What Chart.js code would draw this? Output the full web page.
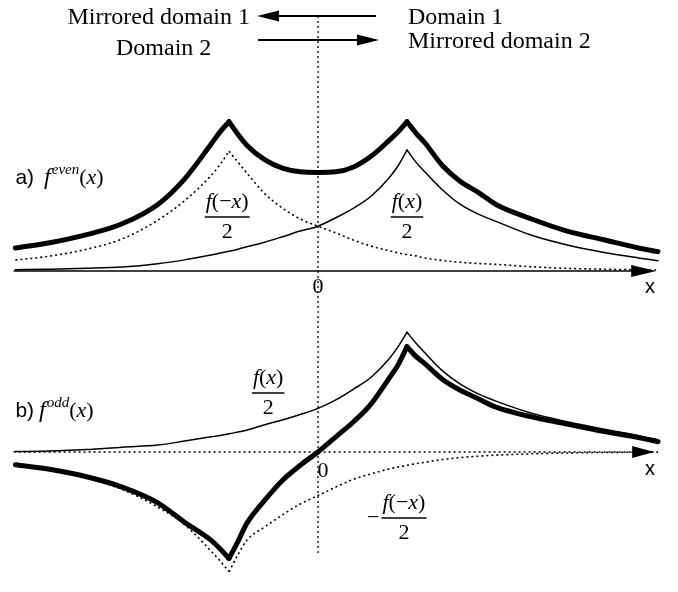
<!DOCTYPE html>
<html>
<head>
<meta charset="utf-8">
<script src="https://cdn.jsdelivr.net/npm/chart.js@4.4.1/dist/chart.umd.min.js"></script>
<style>
  html, body { margin: 0; padding: 0; background: #fff; }
  canvas { display: block; }
</style>
</head>
<body>
<canvas id="c" width="678" height="592"></canvas>
<script>
// Sample positions along x (one unit = distance from the origin to the cusp of f).
const xs = [-3.4, -3.0, -2.6, -2.2, -1.8, -1.5, -1.2, -1.1, -1.0, -0.9, -0.8, -0.6, -0.4, -0.2, 0,
            0.2, 0.4, 0.6, 0.8, 0.9, 1.0, 1.1, 1.2, 1.4, 1.6, 1.8, 2.0, 2.4, 2.8, 3.2, 3.6, 3.82];

// a) even part f_even(x) and its two halves
const evenA   = [0.19, 0.235, 0.30, 0.39, 0.55, 0.76, 1.05, 1.15, 1.234, 1.13, 1.04, 0.92, 0.85, 0.82, 0.815,
                 0.82, 0.86, 0.95, 1.08, 1.15, 1.234, 1.14, 1.06, 0.87, 0.74, 0.65, 0.55, 0.43, 0.33, 0.26, 0.19, 0.16];
const halfA   = [0.01, 0.015, 0.022, 0.033, 0.06, 0.092, 0.133, 0.148, 0.163, 0.18, 0.2, 0.238, 0.283, 0.33, 0.37,
                 0.44, 0.52, 0.62, 0.77, 0.87, 1.0, 0.9, 0.82, 0.67, 0.55, 0.47, 0.41, 0.295, 0.215, 0.155, 0.108, 0.085];
const mirrorA = [0.09, 0.125, 0.18, 0.265, 0.42, 0.58, 0.79, 0.88, 0.99, 0.9, 0.81, 0.64, 0.52, 0.43, 0.37,
                 0.315, 0.255, 0.205, 0.167, 0.15, 0.135, 0.125, 0.108, 0.087, 0.072, 0.062, 0.055, 0.035, 0.022, 0.015, 0.01, 0.008];

// b) odd part f_odd(x), f(x)/2 and -f(-x)/2
const oddB       = [-0.105, -0.145, -0.205, -0.29, -0.42, -0.58, -0.73, -0.80, -0.88, -0.74, -0.59, -0.40, -0.235, -0.11, 0,
                    0.125, 0.25, 0.40, 0.61, 0.72, 0.87, 0.79, 0.73, 0.6, 0.51, 0.44, 0.37, 0.29, 0.23, 0.17, 0.12, 0.085];
const halfB      = [0.003, 0.008, 0.02, 0.04, 0.057, 0.09, 0.125, 0.137, 0.15, 0.165, 0.18, 0.225, 0.265, 0.31, 0.36,
                    0.43, 0.52, 0.62, 0.77, 0.87, 0.99, 0.9, 0.82, 0.67, 0.56, 0.48, 0.42, 0.32, 0.25, 0.19, 0.135, 0.1];
const negMirrorB = [-0.112, -0.152, -0.215, -0.31, -0.455, -0.6, -0.82, -0.9, -0.99, -0.85, -0.73, -0.62, -0.52, -0.43, -0.36,
                    -0.29, -0.225, -0.18, -0.14, -0.125, -0.11, -0.097, -0.085, -0.062, -0.046, -0.035, -0.026, -0.015, -0.008, -0.004, -0.002, -0.001];

// extent of the drawn x axes (arrow tip on the right)
const axisFrom = -3.42;
const axisTo = 3.8;

const INK = '#000';
const SERIF = '"Liberation Serif", "DejaVu Serif", serif';
const SANS = '"Liberation Sans", Arial, sans-serif';
const RM = `22px ${SERIF}`;
const IT = `italic 22px ${SERIF}`;

// split a curve at its cusps so each smooth branch is interpolated separately
function branches(ys, cusps) {
  const cuts = cusps.map(c => xs.indexOf(c)).concat([xs.length - 1]);
  const out = [];
  let start = 0;
  cuts.forEach(end => {
    out.push(xs.slice(start, end + 1).map((x, i) => ({ x, y: ys[start + i] })));
    start = end;
  });
  return out;
}

const STYLES = {
  thick:  { borderWidth: 5,   borderDash: [] },
  thin:   { borderWidth: 1.5, borderDash: [] },
  dotted: { borderWidth: 1.6, borderDash: [2, 3] }
};

function curve(ys, cusps, style, axis) {
  return branches(ys, cusps).map(pts => Object.assign({
    data: pts,
    xAxisID: 'x',
    yAxisID: axis,
    borderColor: INK,
    pointRadius: 0,
    fill: false,
    cubicInterpolationMode: 'monotone',
    borderCapStyle: style === 'dotted' ? 'butt' : 'round',
    borderJoinStyle: 'round'
  }, STYLES[style]));
}

const datasets = [].concat(
  curve(evenA,      [-1, 1], 'thick',  'ya'),
  curve(halfA,      [1],     'thin',   'ya'),
  curve(mirrorA,    [-1],    'dotted', 'ya'),
  curve(oddB,       [-1, 1], 'thick',  'yb'),
  curve(halfB,      [1],     'thin',   'yb'),
  curve(negMirrorB, [-1],    'dotted', 'yb')
);

function seg(ctx, x1, y1, x2, y2) {
  ctx.beginPath(); ctx.moveTo(x1, y1); ctx.lineTo(x2, y2); ctx.stroke();
}
function arrowHead(ctx, tipX, y, dir, len, half) {
  ctx.beginPath();
  ctx.moveTo(tipX, y);
  ctx.lineTo(tipX - dir * len, y - half);
  ctx.lineTo(tipX - dir * len, y + half);
  ctx.closePath();
  ctx.fill();
}
function measure(ctx, parts) {
  let w = 0;
  parts.forEach(p => { ctx.font = p[1]; w += ctx.measureText(p[0]).width; });
  return w;
}
function drawRuns(ctx, x, y, parts, align) {
  const w = measure(ctx, parts);
  let cx = align === 'center' ? x - w / 2 : (align === 'right' ? x - w : x);
  ctx.textAlign = 'left';
  ctx.textBaseline = 'alphabetic';
  parts.forEach(p => {
    ctx.font = p[1];
    ctx.fillText(p[0], cx, y + (p[2] || 0));
    cx += ctx.measureText(p[0]).width + (p[3] || 0);
  });
  return w;
}
function fraction(ctx, cx, barY, num, lead) {
  const w = drawRuns(ctx, cx, barY - 9, num, 'center');
  ctx.lineWidth = 1.4;
  seg(ctx, cx - w / 2 - 1, barY, cx + w / 2 + 1, barY);
  drawRuns(ctx, cx, barY + 21, [['2', RM]], 'center');
  if (lead) drawRuns(ctx, cx - w / 2 - 3, barY + 6, [[lead, RM]], 'right');
}

const decor = {
  id: 'decor',
  beforeDatasetsDraw(chart) {
    const { ctx, scales: { x, ya, yb } } = chart;
    ctx.save();
    ctx.strokeStyle = INK;
    ctx.fillStyle = INK;

    // dotted vertical line through the origin, from the header down through both panels
    const x0 = x.getPixelForValue(0);
    ctx.lineWidth = 1.3;
    ctx.setLineDash([2, 3]);
    seg(ctx, x0, 16, x0, yb.getPixelForValue(-0.85));

    const xl = x.getPixelForValue(axisFrom);
    const xr = x.getPixelForValue(axisTo);

    // a) solid x axis with arrow
    const ay = ya.getPixelForValue(0);
    ctx.setLineDash([]);
    ctx.lineWidth = 1.6;
    seg(ctx, xl, ay, xr - 20, ay);
    arrowHead(ctx, xr, ay, 1, 25, 6);

    // b) dotted x axis with arrow
    const by = yb.getPixelForValue(0);
    ctx.setLineDash([2, 3]);
    ctx.lineWidth = 1.6;
    seg(ctx, xl, by, xr - 20, by);
    ctx.setLineDash([]);
    arrowHead(ctx, xr - 2, by, 1, 22, 6);

    ctx.restore();
  },
  afterDatasetsDraw(chart) {
    const { ctx, scales: { x, ya, yb } } = chart;
    ctx.save();
    ctx.fillStyle = INK;
    ctx.strokeStyle = INK;

    // header: domains and their mirror images
    const HF = `24px ${SERIF}`;
    drawRuns(ctx, 250, 24, [['Mirrored domain 1', HF]], 'right');
    drawRuns(ctx, 408, 24, [['Domain 1', HF]], 'left');
    drawRuns(ctx, 116, 55, [['Domain 2', HF]], 'left');
    drawRuns(ctx, 408, 48, [['Mirrored domain 2', HF]], 'left');
    ctx.lineWidth = 2;
    seg(ctx, 376, 16, 275, 16);
    arrowHead(ctx, 257, 16, -1, 22, 5.5);
    seg(ctx, 258, 40, 360, 40);
    arrowHead(ctx, 379, 40, 1, 22, 5.5);

    const x0 = x.getPixelForValue(0);
    const ay = ya.getPixelForValue(0);
    const by = yb.getPixelForValue(0);
    const xl = x.getPixelForValue(-3.4);

    // panel captions
    drawRuns(ctx, xl, ya.getPixelForValue(0.72), [
      ['a)', `21px ${SANS}`, 0, 10],
      ['f', `italic 24px ${SERIF}`, 0, 1],
      ['even', `italic 15px ${SERIF}`, -10],
      ['(', RM], ['x', IT], [')', RM]
    ]);
    drawRuns(ctx, xl, yb.getPixelForValue(0.29), [
      ['b)', `21px ${SANS}`, 0, 5],
      ['f', `italic 24px ${SERIF}`, 0, 1],
      ['odd', `italic 15px ${SERIF}`, -10],
      ['(', RM], ['x', IT], [')', RM]
    ]);

    // origin and axis names
    drawRuns(ctx, x0, ay + 22, [['0', RM]], 'center');
    drawRuns(ctx, x0 + 5, by + 25, [['0', RM]], 'center');
    const xn = x.getPixelForValue(3.73);
    drawRuns(ctx, xn, ay + 22, [['x', `20px ${SANS}`]], 'center');
    drawRuns(ctx, xn, by + 23, [['x', `20px ${SANS}`]], 'center');

    // curve labels
    const numMirror = [['f', IT], ['(', RM], ['\u2212', RM], ['x', IT], [')', RM]];
    const numHalf = [['f', IT], ['(', RM], ['x', IT], [')', RM]];
    fraction(ctx, x.getPixelForValue(-1.02), ya.getPixelForValue(0.446), numMirror);
    fraction(ctx, x.getPixelForValue(1.0), ya.getPixelForValue(0.446), numHalf);
    fraction(ctx, x.getPixelForValue(-0.56), yb.getPixelForValue(0.488), numHalf);
    fraction(ctx, x.getPixelForValue(0.966), yb.getPixelForValue(-0.545), numMirror, '\u2212');

    ctx.restore();
  }
};

new Chart(document.getElementById('c'), {
  type: 'line',
  data: { datasets },
  options: {
    responsive: false,
    devicePixelRatio: 1,
    animation: false,
    layout: { padding: { top: 62, left: 0, right: 0, bottom: 0 } },
    plugins: { legend: { display: false }, tooltip: { enabled: false } },
    scales: {
      x:  { type: 'linear', min: -3.573, max: 4.045, display: false },
      yb: { type: 'linear', position: 'left', stack: 'panels', stackWeight: 296, min: -1.157, max: 1.289, display: false },
      ya: { type: 'linear', position: 'left', stack: 'panels', stackWeight: 234, min: -0.2066, max: 1.7273, display: false }
    }
  },
  plugins: [decor]
});
</script>
</body>
</html>
